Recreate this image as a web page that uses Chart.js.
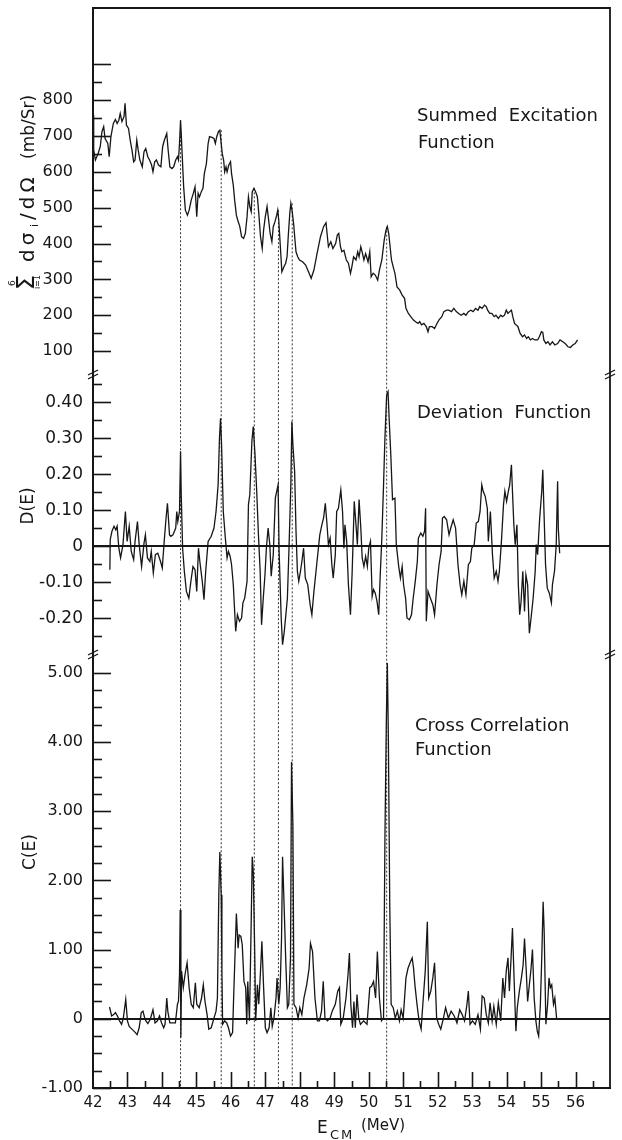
<!DOCTYPE html>
<html>
<head>
<meta charset="utf-8">
<title>Summed Excitation, Deviation and Cross Correlation Function</title>
<script src="https://cdn.jsdelivr.net/npm/chart.js"></script>
<style>
  html, body { margin: 0; padding: 0; background: #fff; }
  canvas { display: block; }
</style>
</head>
<body>
<canvas id="chart" width="622" height="1140"></canvas>
<script>
// summed excitation function (mb/Sr)
const sumE = [
  42.00, 42.02, 42.07, 42.15, 42.21, 42.26, 42.31, 42.35, 42.43, 42.47,
  42.52, 42.59, 42.65, 42.70, 42.75, 42.79, 42.84, 42.90, 42.93, 42.97,
  43.03, 43.08, 43.13, 43.18, 43.22, 43.27, 43.31, 43.36, 43.43, 43.48,
  43.53, 43.59, 43.64, 43.70, 43.74, 43.79, 43.84, 43.90, 43.97, 44.02,
  44.07, 44.14, 44.18, 44.23, 44.29, 44.34, 44.40, 44.45, 44.48, 44.51,
  44.54, 44.56, 44.59, 44.63, 44.68, 44.74, 44.79, 44.85, 44.91, 44.96,
  45.01, 45.05, 45.09, 45.14, 45.19, 45.23, 45.29, 45.34, 45.38, 45.45,
  45.51, 45.55, 45.59, 45.64, 45.68, 45.71, 45.75, 45.79, 45.82, 45.86,
  45.89, 45.94, 45.99, 46.02, 46.07, 46.11, 46.16, 46.20, 46.26, 46.31,
  46.37, 46.42, 46.47, 46.51, 46.55, 46.59, 46.62, 46.67, 46.72, 46.77,
  46.81, 46.86, 46.91, 46.95, 47.00, 47.05, 47.09, 47.14, 47.19, 47.23,
  47.28, 47.33, 47.36, 47.39, 47.43, 47.48, 47.54, 47.59, 47.63, 47.67,
  47.71, 47.74, 47.78, 47.82, 47.86, 47.89, 47.94, 47.99, 48.08, 48.17,
  48.27, 48.33, 48.41, 48.50, 48.60, 48.69, 48.76, 48.83, 48.90, 48.96,
  49.04, 49.09, 49.13, 49.18, 49.22, 49.28, 49.35, 49.41, 49.47, 49.51,
  49.56, 49.63, 49.68, 49.72, 49.77, 49.82, 49.86, 49.91, 49.98, 50.03,
  50.07, 50.13, 50.19, 50.26, 50.31, 50.38, 50.45, 50.50, 50.54, 50.58,
  50.61, 50.66, 50.71, 50.76, 50.82, 50.90, 50.97, 51.04, 51.08, 51.15,
  51.22, 51.29, 51.36, 51.43, 51.48, 51.53, 51.60, 51.67, 51.72, 51.76,
  51.84, 51.91, 51.98, 52.04, 52.12, 52.18, 52.26, 52.32, 52.40, 52.47,
  52.54, 52.61, 52.68, 52.76, 52.82, 52.89, 52.96, 53.03, 53.10, 53.17,
  53.22, 53.29, 53.36, 53.41, 53.45, 53.51, 53.57, 53.64, 53.69, 53.76,
  53.83, 53.88, 53.94, 53.99, 54.04, 54.09, 54.14, 54.18, 54.23, 54.28,
  54.33, 54.39, 54.46, 54.52, 54.58, 54.63, 54.69, 54.75, 54.82, 54.90,
  54.95, 55.01, 55.05, 55.08, 55.14, 55.20, 55.26, 55.33, 55.40, 55.48,
  55.55, 55.63, 55.70, 55.78, 55.85, 55.92, 55.99, 56.06
];
const sumVal = [
  758, 661, 633, 651, 670, 712, 726, 693, 679, 642,
  698, 735, 746, 735, 744, 763, 740, 754, 791, 730,
  721, 688, 661, 628, 633, 688, 661, 633, 614, 656,
  665, 642, 633, 619, 600, 628, 633, 619, 614, 670,
  688, 707, 661, 614, 609, 614, 633, 642, 633, 679,
  744, 707, 642, 558, 493, 479, 493, 521, 540, 558,
  475, 540, 530, 544, 554, 595, 623, 679, 698, 696,
  693, 679, 698, 712, 716, 688, 651, 633, 600, 614,
  600, 619, 628, 595, 563, 521, 479, 465, 447, 419,
  414, 428, 475, 530, 503, 489, 544, 554, 544, 530,
  484, 419, 386, 438, 475, 503, 470, 428, 405, 447,
  461, 479, 493, 465, 400, 321, 335, 345, 363, 428,
  484, 512, 489, 456, 410, 377, 363, 354, 349, 340,
  317, 303, 326, 372, 419, 447, 458, 391, 405, 386,
  400, 424, 428, 391, 377, 381, 354, 345, 317, 335,
  363, 354, 377, 363, 391, 372, 354, 372, 349, 377,
  307, 317, 312, 298, 326, 354, 410, 437, 447, 428,
  400, 354, 335, 317, 279, 270, 256, 247, 219, 205,
  196, 187, 182, 177, 182, 173, 177, 168, 154, 168,
  168, 163, 177, 187, 196, 210, 214, 214, 210, 219,
  210, 205, 200, 205, 200, 210, 214, 210, 219, 214,
  224, 219, 228, 224, 214, 205, 205, 196, 200, 191,
  200, 196, 200, 214, 205, 210, 214, 196, 177, 173,
  168, 150, 140, 145, 135, 140, 131, 135, 131, 131,
  140, 154, 152, 131, 121, 126, 117, 126, 117, 121,
  131, 126, 121, 112, 110, 117, 121, 131
];

// deviation function D(E)
const devE = [
  42.49, 42.50, 42.55, 42.61, 42.66, 42.70, 42.75, 42.80, 42.87, 42.94,
  42.99, 43.05, 43.11, 43.18, 43.22, 43.29, 43.34, 43.41, 43.48, 43.52,
  43.58, 43.65, 43.69, 43.75, 43.81, 43.88, 43.96, 44.01, 44.07, 44.12,
  44.16, 44.22, 44.26, 44.32, 44.40, 44.43, 44.46, 44.51, 44.54, 44.56,
  44.60, 44.65, 44.71, 44.78, 44.84, 44.90, 44.96, 45.01, 45.06, 45.10,
  45.17, 45.22, 45.27, 45.34, 45.43, 45.51, 45.57, 45.63, 45.67, 45.70,
  45.73, 45.78, 45.84, 45.89, 45.93, 45.98, 46.02, 46.07, 46.14, 46.19,
  46.25, 46.31, 46.35, 46.40, 46.47, 46.51, 46.55, 46.61, 46.65, 46.70,
  46.75, 46.80, 46.85, 46.89, 46.94, 46.99, 47.03, 47.08, 47.13, 47.17,
  47.23, 47.29, 47.33, 47.37, 47.40, 47.46, 47.50, 47.55, 47.64, 47.69,
  47.74, 47.77, 47.80, 47.85, 47.89, 47.93, 47.97, 48.02, 48.06, 48.11,
  48.16, 48.23, 48.30, 48.35, 48.41, 48.49, 48.58, 48.64, 48.69, 48.74,
  48.79, 48.83, 48.88, 48.93, 48.97, 49.03, 49.07, 49.12, 49.19, 49.24,
  49.28, 49.31, 49.36, 49.41, 49.47, 49.52, 49.58, 49.63, 49.67, 49.72,
  49.77, 49.81, 49.86, 49.91, 49.96, 50.00, 50.05, 50.10, 50.14, 50.19,
  50.24, 50.29, 50.33, 50.38, 50.43, 50.47, 50.52, 50.56, 50.60, 50.64,
  50.69, 50.76, 50.80, 50.87, 50.92, 50.97, 51.01, 51.07, 51.11, 51.18,
  51.24, 51.29, 51.35, 51.41, 51.44, 51.51, 51.57, 51.62, 51.65, 51.67,
  51.72, 51.79, 51.86, 51.91, 51.98, 52.04, 52.10, 52.14, 52.19, 52.26,
  52.33, 52.38, 52.45, 52.52, 52.59, 52.65, 52.70, 52.76, 52.82, 52.89,
  52.95, 52.99, 53.06, 53.12, 53.18, 53.23, 53.28, 53.32, 53.38, 53.44,
  53.47, 53.53, 53.59, 53.64, 53.70, 53.75, 53.79, 53.85, 53.91, 53.95,
  54.00, 54.05, 54.09, 54.14, 54.17, 54.21, 54.25, 54.30, 54.34, 54.38,
  54.42, 54.47, 54.52, 54.56, 54.61, 54.66, 54.71, 54.77, 54.83, 54.86,
  54.90, 54.96, 55.02, 55.05, 55.09, 55.13, 55.18, 55.24, 55.30, 55.33,
  55.39, 55.44, 55.48, 55.50, 55.54
];
const devVal = [
  -0.065, 0.019, 0.042, 0.056, 0.046, 0.056, -0.005, -0.032, 0.005, 0.097,
  0.014, 0.056, -0.014, -0.037, 0.014, 0.069, 0.005, -0.056, 0.009, 0.032,
  -0.032, -0.042, -0.014, -0.074, -0.023, -0.019, -0.042, -0.060, 0.019, 0.079,
  0.120, 0.032, 0.028, 0.032, 0.051, 0.097, 0.069, 0.097, 0.264, 0.144,
  -0.005, -0.069, -0.125, -0.144, -0.097, -0.056, -0.065, -0.125, -0.005, -0.042,
  -0.097, -0.148, -0.069, 0.014, 0.028, 0.051, 0.097, 0.171, 0.301, 0.356,
  0.282, 0.097, 0.023, -0.032, -0.014, -0.028, -0.051, -0.106, -0.236, -0.190,
  -0.208, -0.199, -0.157, -0.144, -0.097, 0.116, 0.144, 0.292, 0.333, 0.255,
  0.153, 0.032, -0.069, -0.218, -0.144, -0.079, -0.005, 0.051, 0.005, -0.083,
  -0.023, 0.134, 0.153, 0.171, -0.014, -0.199, -0.273, -0.236, -0.144, 0.005,
  0.171, 0.347, 0.282, 0.208, 0.042, -0.069, -0.097, -0.069, -0.042, -0.005,
  -0.088, -0.106, -0.162, -0.190, -0.125, -0.051, 0.032, 0.060, 0.079, 0.120,
  0.060, 0.005, 0.023, -0.051, -0.088, -0.023, 0.097, 0.106, 0.157, 0.097,
  -0.005, 0.060, 0.014, -0.106, -0.190, -0.069, 0.125, 0.060, 0.005, 0.130,
  0.051, -0.032, -0.056, -0.028, -0.056, -0.005, 0.014, -0.139, -0.120, -0.130,
  -0.153, -0.190, -0.088, 0.023, 0.171, 0.301, 0.421, 0.430, 0.338, 0.255,
  0.130, 0.134, 0.005, -0.056, -0.088, -0.056, -0.106, -0.144, -0.199, -0.204,
  -0.190, -0.144, -0.097, -0.042, 0.023, 0.037, 0.028, 0.042, 0.106, -0.208,
  -0.125, -0.144, -0.162, -0.190, -0.106, -0.051, -0.014, 0.079, 0.083, 0.074,
  0.032, 0.051, 0.074, 0.051, -0.051, -0.106, -0.134, -0.097, -0.134, -0.051,
  -0.042, -0.005, 0.005, 0.065, 0.069, 0.097, 0.171, 0.153, 0.139, 0.106,
  0.014, 0.097, -0.023, -0.088, -0.069, -0.097, -0.069, 0.014, 0.116, 0.153,
  0.125, 0.153, 0.171, 0.227, 0.153, 0.060, 0.005, 0.060, -0.106, -0.190,
  -0.153, -0.069, -0.181, -0.079, -0.106, -0.241, -0.199, -0.144, -0.069, 0.005,
  -0.023, 0.079, 0.153, 0.213, 0.079, -0.051, -0.116, -0.130, -0.157, -0.106,
  -0.069, 0.005, 0.181, 0.051, -0.019
];

// cross correlation function C(E)
const corE = [
  42.48, 42.54, 42.60, 42.65, 42.71, 42.77, 42.83, 42.88, 42.95, 43.00,
  43.05, 43.13, 43.23, 43.28, 43.34, 43.40, 43.45, 43.51, 43.59, 43.66,
  43.74, 43.80, 43.87, 43.93, 43.99, 44.05, 44.09, 44.14, 44.17, 44.23,
  44.31, 44.39, 44.45, 44.48, 44.51, 44.53, 44.55, 44.57, 44.62, 44.67,
  44.73, 44.79, 44.85, 44.91, 44.97, 45.01, 45.08, 45.15, 45.20, 45.25,
  45.31, 45.36, 45.43, 45.51, 45.57, 45.61, 45.65, 45.68, 45.72, 45.74,
  45.76, 45.82, 45.88, 45.93, 45.99, 46.05, 46.08, 46.13, 46.16, 46.21,
  46.24, 46.29, 46.33, 46.38, 46.43, 46.46, 46.49, 46.54, 46.59, 46.62,
  46.65, 46.69, 46.72, 46.77, 46.81, 46.86, 46.90, 46.95, 47.00, 47.05,
  47.11, 47.16, 47.20, 47.25, 47.31, 47.34, 47.39, 47.43, 47.47, 47.50,
  47.55, 47.59, 47.64, 47.68, 47.73, 47.76, 47.80, 47.83, 47.89, 47.95,
  48.00, 48.06, 48.12, 48.20, 48.27, 48.31, 48.37, 48.44, 48.51, 48.57,
  48.63, 48.68, 48.73, 48.80, 48.88, 48.94, 49.03, 49.10, 49.15, 49.19,
  49.26, 49.34, 49.40, 49.44, 49.48, 49.53, 49.57, 49.61, 49.66, 49.71,
  49.76, 49.85, 49.95, 50.03, 50.08, 50.14, 50.20, 50.25, 50.31, 50.37,
  50.43, 50.47, 50.51, 50.54, 50.57, 50.61, 50.65, 50.71, 50.77, 50.83,
  50.89, 50.94, 51.00, 51.08, 51.14, 51.20, 51.26, 51.30, 51.34, 51.40,
  51.46, 51.52, 51.57, 51.64, 51.70, 51.74, 51.80, 51.86, 51.91, 51.97,
  52.03, 52.09, 52.16, 52.23, 52.31, 52.39, 52.48, 52.56, 52.64, 52.71,
  52.78, 52.85, 52.89, 52.94, 53.01, 53.09, 53.17, 53.24, 53.29, 53.35,
  53.41, 53.47, 53.52, 53.58, 53.63, 53.70, 53.76, 53.83, 53.89, 53.94,
  53.99, 54.04, 54.08, 54.13, 54.17, 54.22, 54.27, 54.31, 54.37, 54.43,
  54.48, 54.52, 54.57, 54.61, 54.66, 54.71, 54.75, 54.80, 54.85, 54.89,
  54.93, 54.98, 55.02, 55.06, 55.09, 55.14, 55.19, 55.23, 55.27, 55.31,
  55.36, 55.40, 55.45
];
const corVal = [
  0.17, 0.04, 0.06, 0.09, 0.04, -0.03, -0.08, 0.01, 0.28, -0.03,
  -0.11, -0.15, -0.20, -0.23, -0.13, 0.09, 0.11, -0.01, -0.07, -0.01,
  0.13, -0.06, -0.03, 0.04, -0.06, -0.13, -0.08, 0.30, 0.11, -0.06,
  -0.06, -0.06, 0.21, 0.25, 0.64, 1.57, -0.27, 0.69, 0.45, 0.64,
  0.81, 0.45, 0.21, 0.16, 0.52, 0.21, 0.16, 0.30, 0.49, 0.25,
  0.06, -0.15, -0.13, 0.01, 0.11, 0.30, 1.79, 2.41, 1.79, 0.69,
  -0.08, -0.03, -0.06, -0.13, -0.25, -0.20, 0.30, 1.07, 1.52, 1.02,
  1.21, 1.19, 1.07, 0.54, 0.45, -0.08, 0.54, -0.03, 1.40, 2.34,
  2.12, 1.02, -0.03, 0.49, 0.21, 0.69, 1.12, 0.45, -0.13, -0.20,
  -0.13, 0.16, -0.11, 0.01, 0.30, 0.59, 0.21, 0.45, 1.16, 2.34,
  1.55, 0.88, 0.16, 0.21, 0.88, 3.71, 2.79, 0.21, 0.16, 0.01,
  0.16, 0.06, 0.30, 0.49, 0.73, 1.09, 0.97, 0.30, -0.03, -0.03,
  0.11, 0.54, 0.01, -0.03, 0.01, 0.11, 0.21, 0.40, 0.45, -0.08,
  0.01, 0.30, 0.64, 0.95, 0.21, -0.13, 0.25, -0.13, 0.35, 0.01,
  -0.08, -0.03, -0.08, 0.45, 0.47, 0.54, 0.30, 0.97, 0.30, -0.03,
  0.01, 2.60, 4.28, 5.14, 4.04, 1.64, 0.21, 0.16, 0.01, 0.11,
  -0.03, 0.13, 0.01, 0.59, 0.73, 0.81, 0.88, 0.73, 0.49, 0.21,
  -0.03, -0.15, 0.21, 0.69, 1.40, 0.30, 0.40, 0.59, 0.81, 0.01,
  -0.08, -0.15, -0.01, 0.16, 0.01, 0.11, 0.04, -0.06, 0.13, 0.06,
  -0.03, 0.21, 0.40, -0.08, -0.03, -0.08, 0.06, -0.15, 0.33, 0.30,
  0.06, -0.06, 0.23, -0.03, 0.18, -0.08, 0.23, -0.03, 0.59, 0.30,
  0.69, 0.88, 0.40, 0.88, 1.31, 0.54, -0.18, 0.16, 0.40, 0.59,
  0.78, 1.16, 0.69, 0.25, 0.49, 0.73, 1.00, 0.30, -0.03, -0.18,
  -0.25, 0.21, 0.88, 1.69, 1.26, -0.08, 0.21, 0.59, 0.45, 0.49,
  0.21, 0.30, 0.01
];

// dotted lines: energy and the summed value where each line starts
const markE = [44.54, 45.72, 46.68, 47.38, 47.78, 50.52];
const markTop = [744, 716, 554, 493, 512, 447];

// tick positions
const xTicks = [42, 42.5, 43, 43.5, 44, 44.5, 45, 45.5, 46, 46.5, 47, 47.5, 48, 48.5,
  49, 49.5, 50, 50.5, 51, 51.5, 52, 52.5, 53, 53.5, 54, 54.5, 55, 55.5, 56, 56.5];
const topTicks = [100, 150, 200, 250, 300, 350, 400, 450, 500, 550, 600, 650, 700, 750, 800, 850, 900];
const midTicks = [-0.25, -0.2, -0.15, -0.1, -0.05, 0, 0.05, 0.1, 0.15, 0.2, 0.25, 0.3, 0.35, 0.4, 0.45];
const botTicks = [-1, -0.75, -0.5, -0.25, 0, 0.25, 0.5, 0.75, 1, 1.25, 1.5, 1.75, 2, 2.25, 2.5, 2.75,
  3, 3.25, 3.5, 3.75, 4, 4.25, 4.5, 4.75, 5];

const INK = '#161616';
const FONT = '"DejaVu Sans", sans-serif';
Chart.defaults.font.family = FONT;
Chart.defaults.color = INK;

function pts(xs, ys) {
  return xs.map((x, i) => ({ x: x, y: ys[i] }));
}

function isMajor(v, step) {
  const r = v / step;
  return Math.abs(r - Math.round(r)) < 1e-6;
}

// no label overhang padding, panels have to sit exactly
function noPad(s) {
  s.paddingTop = 0;
  s.paddingBottom = 0;
  s.paddingLeft = 0;
  s.paddingRight = 0;
}
function fixWidth(s) {
  s.width = 93;
  noPad(s);
}

// thick line at zero only
const zeroGrid = {
  drawTicks: false,
  lineWidth: 2,
  color: c => (c.tick && Math.abs(c.tick.value) < 1e-9) ? INK : 'rgba(0,0,0,0)'
};
const axisBorder = { display: true, color: INK, width: 2 };

// dotted marker lines from the top curve down to the energy axis
const markLines = {
  id: 'markLines',
  beforeDatasetsDraw(chart) {
    const { ctx, scales } = chart;
    ctx.save();
    ctx.strokeStyle = '#333';
    ctx.lineWidth = 1;
    ctx.setLineDash([2, 2]);
    markE.forEach((e, i) => {
      const x = scales.x.getPixelForValue(e);
      ctx.beginPath();
      ctx.moveTo(x, scales.yTop.getPixelForValue(markTop[i]));
      ctx.lineTo(x, scales.yBot.getPixelForValue(-1));
      ctx.stroke();
    });
    ctx.restore();
  }
};

// inward tick marks, frame, break marks and texts
const decor = {
  id: 'decor',
  afterDraw(chart) {
    const { ctx, chartArea: a, scales } = chart;
    ctx.save();
    ctx.strokeStyle = INK;
    ctx.fillStyle = INK;

    ctx.lineWidth = 1.6;
    [['yTop', 100], ['yMid', 0.1], ['yBot', 1]].forEach(([id, step]) => {
      const s = scales[id];
      s.ticks.forEach(t => {
        const y = Math.round(s.getPixelForValue(t.value)) + 0.5;
        const len = isMajor(t.value, step) ? 18 : 9;
        ctx.beginPath();
        ctx.moveTo(a.left, y);
        ctx.lineTo(a.left + len, y);
        ctx.stroke();
      });
    });
    const sx = scales.x;
    sx.ticks.forEach(t => {
      if (t.value <= 42) return;
      const x = Math.round(sx.getPixelForValue(t.value)) + 0.5;
      const len = isMajor(t.value, 1) ? 16 : 7;
      ctx.beginPath();
      ctx.moveTo(x, a.bottom);
      ctx.lineTo(x, a.bottom - len);
      ctx.stroke();
    });

    // top and right frame
    ctx.lineWidth = 1.8;
    ctx.beginPath();
    ctx.moveTo(a.left, a.top);
    ctx.lineTo(a.right, a.top);
    ctx.lineTo(a.right, a.bottom);
    ctx.stroke();

    // axis break marks between the panels
    ctx.lineWidth = 1.3;
    [scales.yTop.bottom, scales.yMid.bottom].forEach(y => {
      [a.left, a.right].forEach(x => {
        ctx.beginPath();
        ctx.moveTo(x - 5, y + 1);
        ctx.lineTo(x + 5, y - 4);
        ctx.moveTo(x - 5, y + 5);
        ctx.lineTo(x + 5, y);
        ctx.stroke();
      });
    });

    // panel captions
    ctx.textAlign = 'left';
    ctx.textBaseline = 'alphabetic';
    ctx.font = '18px ' + FONT;
    ctx.fillText('Summed  Excitation', 417, 121);
    ctx.fillText('Function', 418, 148);
    ctx.fillText('Deviation  Function', 417, 418);
    ctx.fillText('Cross Correlation', 415, 731);
    ctx.fillText('Function', 415, 755);

    // energy axis title with subscript
    ctx.font = '17px ' + FONT;
    ctx.fillText('E', 317, 1133);
    ctx.letterSpacing = '2px';
    ctx.font = '13px ' + FONT;
    ctx.fillText('CM', 330, 1139);
    ctx.letterSpacing = '0px';
    ctx.font = '15px ' + FONT;
    ctx.fillText('(MeV)', 361, 1130);

    // rotated axis titles
    ctx.save();
    ctx.translate(33, 506);
    ctx.rotate(-Math.PI / 2);
    ctx.textAlign = 'center';
    ctx.font = '17px ' + FONT;
    ctx.fillText('D(E)', 0, 0);
    ctx.restore();

    ctx.save();
    ctx.translate(35, 852);
    ctx.rotate(-Math.PI / 2);
    ctx.textAlign = 'center';
    ctx.font = '17px ' + FONT;
    ctx.fillText('C(E)', 0, 0);
    ctx.restore();

    ctx.save();
    ctx.translate(34, 290);
    ctx.rotate(-Math.PI / 2);
    ctx.textAlign = 'left';
    ctx.font = '24px ' + FONT;
    ctx.fillText('Σ', 0, 0);
    ctx.font = '9px ' + FONT;
    ctx.fillText('6', 4, -19);
    ctx.font = '8px ' + FONT;
    ctx.fillText('i=1', 1, 6);
    ctx.letterSpacing = '4px';
    ctx.font = '20px ' + FONT;
    ctx.fillText('dσ', 28, 0);
    ctx.letterSpacing = '0px';
    ctx.font = '11px ' + FONT;
    ctx.fillText('i', 63, 4);
    ctx.letterSpacing = '4px';
    ctx.font = '20px ' + FONT;
    ctx.fillText('/dΩ', 70, 0);
    ctx.letterSpacing = '0px';
    ctx.font = '17px ' + FONT;
    ctx.fillText('(mb/Sr)', 131, 0);
    ctx.restore();

    ctx.restore();
  }
};

const lineStyle = {
  borderColor: INK,
  borderWidth: 1.3,
  pointRadius: 0,
  tension: 0,
  fill: false
};

new Chart(document.getElementById('chart'), {
  type: 'line',
  data: {
    datasets: [
      Object.assign({ label: 'Summed Excitation Function', data: pts(sumE, sumVal), yAxisID: 'yTop' }, lineStyle),
      Object.assign({ label: 'Deviation Function', data: pts(devE, devVal), yAxisID: 'yMid' }, lineStyle),
      Object.assign({ label: 'Cross Correlation Function', data: pts(corE, corVal), yAxisID: 'yBot' }, lineStyle)
    ]
  },
  options: {
    responsive: false,
    animation: false,
    devicePixelRatio: 1,
    layout: { padding: { top: 8, right: 12, left: 0, bottom: 0 } },
    plugins: { legend: { display: false }, tooltip: { enabled: false } },
    scales: {
      x: {
        type: 'linear',
        min: 42,
        max: 57,
        afterBuildTicks: s => { s.ticks = xTicks.map(v => ({ value: v })); },
        afterFit: s => { s.height = 52; noPad(s); },
        grid: { display: false, drawTicks: false },
        border: axisBorder,
        ticks: {
          autoSkip: false,
          maxRotation: 0,
          padding: 6,
          font: { size: 15 },
          callback: v => Number.isInteger(v) ? String(v) : ''
        }
      },
      yTop: {
        type: 'linear',
        position: 'left',
        stack: 'panels',
        stackWeight: 366,
        weight: 3,
        min: 36,
        max: 1057,
        afterBuildTicks: s => { s.ticks = topTicks.map(v => ({ value: v })); },
        afterFit: fixWidth,
        grid: { display: false, drawTicks: false },
        border: axisBorder,
        ticks: {
          autoSkip: false,
          padding: 20,
          font: { size: 16 },
          callback: v => (isMajor(v, 100) && v <= 800) ? String(v) : ''
        }
      },
      yMid: {
        type: 'linear',
        position: 'left',
        stack: 'panels',
        stackWeight: 280,
        weight: 2,
        min: -0.299,
        max: 0.479,
        afterBuildTicks: s => { s.ticks = midTicks.map(v => ({ value: v })); },
        afterFit: fixWidth,
        grid: zeroGrid,
        border: axisBorder,
        ticks: {
          autoSkip: false,
          padding: 10,
          font: { size: 17 },
          callback: v => {
            if (!isMajor(v, 0.1) || v > 0.41 || v < -0.21) return '';
            return Math.abs(v) < 1e-9 ? '0' : v.toFixed(2);
          }
        }
      },
      yBot: {
        type: 'linear',
        position: 'left',
        stack: 'panels',
        stackWeight: 434,
        weight: 1,
        min: -1,
        max: 5.27,
        afterBuildTicks: s => { s.ticks = botTicks.map(v => ({ value: v })); },
        afterFit: fixWidth,
        grid: zeroGrid,
        border: axisBorder,
        ticks: {
          autoSkip: false,
          padding: 10,
          font: { size: 16 },
          callback: v => {
            if (!Number.isInteger(v)) return '';
            return v === 0 ? '0' : v.toFixed(2);
          }
        }
      }
    }
  },
  plugins: [markLines, decor]
});
</script>
</body>
</html>
